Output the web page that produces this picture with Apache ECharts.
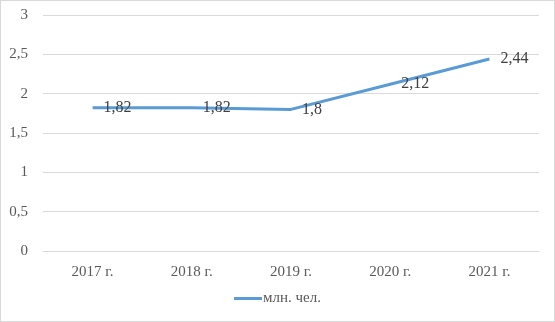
<!DOCTYPE html>
<html><head><meta charset="utf-8">
<script src="https://cdn.jsdelivr.net/npm/echarts@6/dist/echarts.min.js"></script>
<style>
html,body{margin:0;padding:0;background:#fff;}
#c{width:553px;height:320px;border:1px solid #d9d9d9;}
</style></head>
<body><div id="c"></div>
<script>
var categories = ['2017 г.', '2018 г.', '2019 г.', '2020 г.', '2021 г.'];
var values = [1.82, 1.82, 1.8, 2.12, 2.44];
var seriesName = 'млн. чел.';
var fmt = function(v){ return String(v).replace('.', ','); };
var chart = echarts.init(document.getElementById('c'), null, {renderer:'canvas'});
chart.setOption({
  animation:false,
  textStyle:{fontFamily:'Liberation Serif'},
  grid:{left:42,right:15,top:14,bottom:70,containLabel:false},
  xAxis:{type:'category',data:categories,boundaryGap:true,
    axisLine:{show:true,lineStyle:{color:'#d9d9d9',width:1}},
    axisTick:{show:false},
    axisLabel:{color:'#595959',fontSize:15,fontFamily:'Liberation Serif',margin:14}},
  yAxis:{type:'value',min:0,max:3,interval:0.5,
    axisLine:{show:false},axisTick:{show:false},
    splitLine:{lineStyle:{color:'#d9d9d9',width:1}},
    axisLabel:{color:'#595959',fontSize:15,fontFamily:'Liberation Serif',margin:15,formatter:fmt}},
  legend:{bottom:10,left:'center',itemWidth:28,itemHeight:3,itemGap:10,
    icon:'rect',itemStyle:{color:'#5B9BD5',opacity:1},
    textStyle:{color:'#595959',fontSize:15,fontFamily:'Liberation Serif',padding:[0,0,0,-4]},
    data:[seriesName]},
  series:[{name:seriesName,type:'line',data:values,showSymbol:true,showAllSymbol:true,symbol:'circle',symbolSize:0,
    lineStyle:{color:'#5B9BD5',width:3},itemStyle:{color:'#5B9BD5'},
    label:{show:true,position:'right',distance:11,color:'#404040',fontSize:16,fontFamily:'Liberation Serif',formatter:function(p){return fmt(p.value);}}}]
});
</script></body></html>
